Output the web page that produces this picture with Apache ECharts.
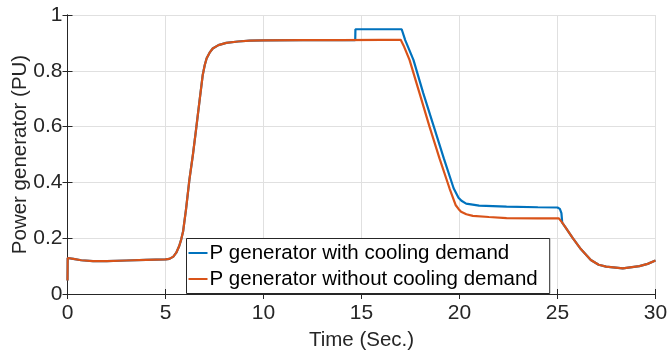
<!DOCTYPE html>
<html>
<head>
<meta charset="utf-8">
<script src="https://cdn.jsdelivr.net/npm/echarts@6/dist/echarts.min.js"></script>
<style>
  html, body { margin: 0; padding: 0; background: #fff; }
</style>
</head>
<body>
<div id="power-chart-container" style="width: 667px; height: 353px"></div>
<script>
// series: time (s) and power (PU)
var timeWithout = [0, 0.01, 0.3, 0.7, 1.3, 2, 3, 4, 5, 5.2, 5.4, 5.55, 5.7, 5.8, 5.9, 6.05, 6.22, 6.4, 6.56, 6.75, 6.9, 7.0, 7.1, 7.25, 7.41, 7.7, 8.1, 8.7, 9.3, 10, 12, 14, 16, 17.0, 17.15, 17.45, 17.96, 18.47, 18.98, 19.49, 19.8, 19.95, 20.08, 20.35, 20.68, 21.5, 22.4, 24, 25.07, 25.24, 25.4, 25.78, 26.2, 26.7, 27.1, 27.48, 28.33, 29.18, 29.6, 30];
var powerWithout = [0.048, 0.129, 0.126, 0.121, 0.118, 0.118, 0.12, 0.122, 0.124, 0.126, 0.134, 0.148, 0.172, 0.195, 0.225, 0.305, 0.41, 0.5, 0.59, 0.7, 0.785, 0.82, 0.845, 0.865, 0.88, 0.892, 0.9, 0.905, 0.908, 0.909, 0.91, 0.91, 0.911, 0.911, 0.89, 0.839, 0.72, 0.6, 0.486, 0.379, 0.319, 0.305, 0.295, 0.286, 0.28, 0.276, 0.272, 0.271, 0.271, 0.256, 0.24, 0.2, 0.16, 0.122, 0.105, 0.098, 0.092, 0.1, 0.108, 0.12];

var timeWith = [0, 0.01, 0.3, 0.7, 1.3, 2, 3, 4, 5, 5.2, 5.4, 5.55, 5.7, 5.8, 5.9, 6.05, 6.22, 6.4, 6.56, 6.75, 6.9, 7.0, 7.1, 7.25, 7.41, 7.7, 8.1, 8.7, 9.3, 10, 12, 14, 14.68, 14.69, 16, 17.05, 17.23, 17.65, 18.15, 18.69, 19.2, 19.7, 19.95, 20.1, 20.34, 21.0, 22.4, 24, 25.0, 25.12, 25.2, 25.24, 25.4, 25.78, 26.2, 26.7, 27.1, 27.48, 28.33, 29.18, 29.6, 30];
var powerWith = [0.048, 0.129, 0.126, 0.121, 0.118, 0.118, 0.12, 0.122, 0.124, 0.126, 0.134, 0.148, 0.172, 0.195, 0.225, 0.305, 0.41, 0.5, 0.59, 0.7, 0.785, 0.82, 0.845, 0.865, 0.88, 0.892, 0.9, 0.905, 0.908, 0.909, 0.91, 0.91, 0.91, 0.949, 0.949, 0.949, 0.91, 0.839, 0.72, 0.6, 0.486, 0.379, 0.345, 0.334, 0.324, 0.317, 0.313, 0.311, 0.31, 0.305, 0.29, 0.256, 0.24, 0.2, 0.16, 0.122, 0.105, 0.098, 0.092, 0.1, 0.108, 0.12];

var seriesNames = ["P generator with cooling demand", "P generator without cooling demand"];
var xTitle = "Time (Sec.)";
var yTitle = "Power generator (PU)";

function pairs(xs, ys) {
  var out = [];
  for (var i = 0; i < xs.length; i++) out.push([xs[i], ys[i]]);
  return out;
}

var colors = ["#0072BD", "#D95319"];
var axisColor = "#262626";
var font = "Arial, 'Liberation Sans', Helvetica, sans-serif";

var option = {
  animation: false,
  color: colors,
  grid: { left: 67.5, right: 11.5, top: 15, bottom: 59, outerBoundsMode: "none" },
  legend: {
    orient: "vertical",
    left: 186.5,
    top: 238.5,
    padding: [4, 12, 4, 2],
    itemGap: 5,
    itemWidth: 19,
    itemHeight: 2,
    icon: "rect",
    backgroundColor: "#fff",
    borderColor: axisColor,
    borderWidth: 1,
    textStyle: { fontFamily: font, fontSize: 20.5, color: "#000", padding: [0, 0, 0, -3] },
    data: seriesNames,
  },
  xAxis: [
    {
      type: "value",
      min: 0,
      max: 30,
      interval: 5,
      name: xTitle,
      nameLocation: "middle",
      nameGap: 36,
      nameMoveOverlap: false,
      nameTextStyle: { fontFamily: font, fontSize: 20.5, color: axisColor },
      axisLine: { lineStyle: { color: axisColor, width: 1 } },
      axisTick: { inside: true, length: 5, lineStyle: { color: axisColor } },
      axisLabel: { margin: 9, fontFamily: font, fontSize: 21, color: axisColor },
      splitLine: { show: true, lineStyle: { color: "#e0e0e0", width: 1 } },
    },
    {
      type: "value",
      position: "top",
      min: 0,
      max: 30,
      interval: 5,
      axisLine: { show: true, lineStyle: { color: axisColor, width: 1 } },
      axisTick: { show: true, inside: true, length: 5, lineStyle: { color: axisColor } },
      axisLabel: { show: false },
      splitLine: { show: false },
    },
  ],
  yAxis: [
    {
      type: "value",
      min: 0,
      max: 1,
      interval: 0.2,
      name: yTitle,
      nameLocation: "middle",
      nameGap: 37,
      nameMoveOverlap: false,
      nameTextStyle: { fontFamily: font, fontSize: 20.5, color: axisColor },
      axisLine: { show: true, lineStyle: { color: axisColor, width: 1 } },
      axisTick: { show: true, inside: true, length: 5, lineStyle: { color: axisColor } },
      axisLabel: { margin: 5, fontFamily: font, fontSize: 21, color: axisColor },
      splitLine: { show: true, lineStyle: { color: "#e0e0e0", width: 1 } },
    },
    {
      type: "value",
      position: "right",
      min: 0,
      max: 1,
      interval: 0.2,
      axisLine: { show: true, lineStyle: { color: axisColor, width: 1 } },
      axisTick: { show: true, inside: true, length: 5, lineStyle: { color: axisColor } },
      axisLabel: { show: false },
      splitLine: { show: false },
    },
  ],
  series: [
    {
      name: seriesNames[0],
      type: "line",
      showSymbol: false,
      data: pairs(timeWith, powerWith),
      lineStyle: { width: 2.2, color: colors[0] },
      z: 2,
    },
    {
      name: seriesNames[1],
      type: "line",
      showSymbol: false,
      data: pairs(timeWithout, powerWithout),
      lineStyle: { width: 2.2, color: colors[1] },
      z: 3,
    },
  ],
};

var myChart = echarts.init(document.getElementById("power-chart-container"));
myChart.setOption(option);
</script>
</body>
</html>
